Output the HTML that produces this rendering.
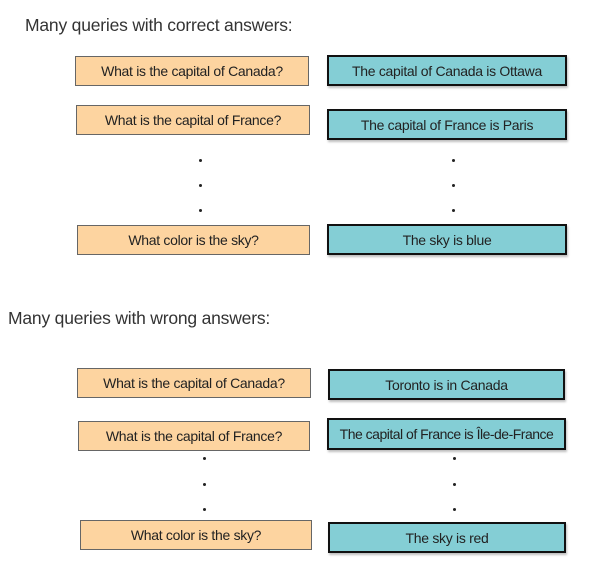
<!DOCTYPE html>
<html><head><style>
body{margin:0;width:595px;height:576px;background:#fff;position:relative;font-family:"Liberation Sans",sans-serif;overflow:hidden}
.t{position:absolute;font-size:17.5px;color:#333;letter-spacing:-0.2px;white-space:nowrap}
.b{position:absolute;box-sizing:border-box;display:flex;align-items:center;justify-content:center;font-size:14px;color:#222;letter-spacing:-0.3px;white-space:nowrap}
.o{background:#fdd4a0;border:1.5px solid #666}
.c{background:#84ced5;border:2.5px solid #111;box-shadow:1px 2px 2px rgba(0,0,0,.25)}
.d{position:absolute;width:3px;height:3px;background:#222;border-radius:50%}
</style></head><body>
<div class="t" style="left:25px;top:15px">Many queries with correct answers:</div>
<div class="b o" style="left:75px;top:56px;width:234px;height:30px">What is the capital of Canada?</div>
<div class="b c" style="left:327px;top:55px;width:240px;height:31px">The capital of Canada is Ottawa</div>
<div class="b o" style="left:76px;top:105px;width:234px;height:30px">What is the capital of France?</div>
<div class="b c" style="left:327px;top:109px;width:240px;height:31px">The capital of France is Paris</div>
<div class="d" style="left:199px;top:159px"></div><div class="d" style="left:452px;top:159px"></div>
<div class="d" style="left:199px;top:184px"></div><div class="d" style="left:452px;top:184px"></div>
<div class="d" style="left:199px;top:209px"></div><div class="d" style="left:452px;top:209px"></div>
<div class="b o" style="left:77px;top:225px;width:233px;height:30px">What color is the sky?</div>
<div class="b c" style="left:327px;top:224px;width:240px;height:31px">The sky is blue</div>

<div class="t" style="left:8px;top:308px">Many queries with wrong answers:</div>
<div class="b o" style="left:77px;top:368px;width:234px;height:30px">What is the capital of Canada?</div>
<div class="b c" style="left:328px;top:369px;width:237px;height:31px">Toronto is in Canada</div>
<div class="b o" style="left:78px;top:421px;width:232px;height:30px">What is the capital of France?</div>
<div class="b c" style="left:327px;top:418px;width:239px;height:32px;letter-spacing:-0.5px">The capital of France is Île-de-France</div>
<div class="d" style="left:203px;top:457px"></div><div class="d" style="left:453px;top:457px"></div>
<div class="d" style="left:203px;top:483px"></div><div class="d" style="left:453px;top:483px"></div>
<div class="d" style="left:203px;top:508px"></div><div class="d" style="left:453px;top:508px"></div>
<div class="b o" style="left:80px;top:520px;width:232px;height:30px">What color is the sky?</div>
<div class="b c" style="left:328px;top:522px;width:238px;height:31px">The sky is red</div>
</body></html>
